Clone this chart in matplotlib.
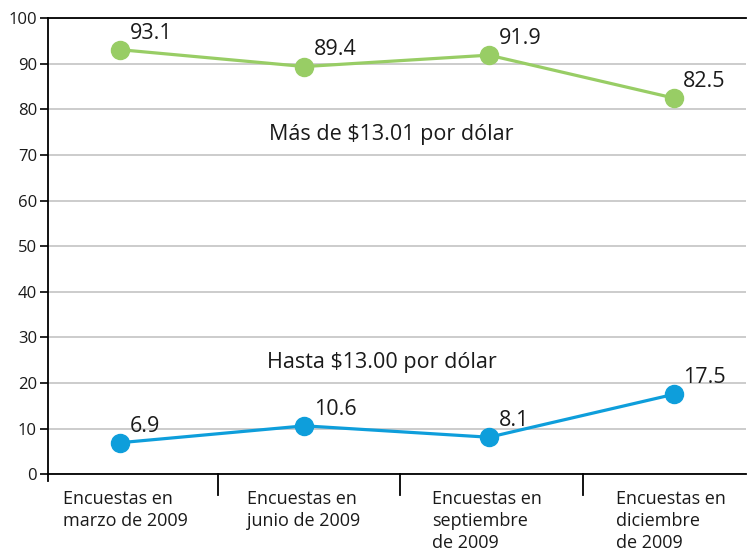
import matplotlib
import matplotlib.pyplot as plt

matplotlib.use("Agg")

categories = ["Encuestas en\nmarzo de 2009", "Encuestas en\njunio de 2009",
              "Encuestas en\nseptiembre\nde 2009", "Encuestas en\ndiciembre\nde 2009"]
mas_de = [93.1, 89.4, 91.9, 82.5]
hasta = [6.9, 10.6, 8.1, 17.5]
yticks = [0, 10, 20, 30, 40, 50, 60, 70, 80, 90, 100]

GREEN = "#98CD65"
BLUE = "#0E9EDB"
TXT = "#1A1A1A"


def main():
    plt.rcParams["font.family"] = ["Open Sans", "DejaVu Sans"]
    fig = plt.figure(figsize=(7.5, 5.52), dpi=100)
    ax = fig.add_axes([0.064, 0.141, 0.93, 0.826])
    x = list(range(len(categories)))

    for vals, color in [(mas_de, GREEN), (hasta, BLUE)]:
        ax.plot(x, vals, color=color, lw=2.3, marker="o", ms=13, zorder=3)
        for xi, v in zip(x, vals):
            ax.annotate(f"{v}", (xi, v), xytext=(7, 12), textcoords="offset points",
                        ha="left", va="center", fontsize=15.5, color=TXT)

    ax.text(1.47, 74.5, "Más de $13.01 por dólar", ha="center", va="center",
            fontsize=15.5, color=TXT)
    ax.text(1.42, 24.5, "Hasta $13.00 por dólar", ha="center", va="center",
            fontsize=15.5, color=TXT)

    ax.set_xlim(-0.39, 3.39)
    ax.set_ylim(0, 100)
    ax.set_yticks(yticks)
    ax.tick_params(axis="y", length=6, width=1.2, labelsize=12, pad=2,
                   labelcolor=TXT)
    ax.set_xticks([])
    ax.yaxis.grid(True, color="#C4C4C4", lw=1.2)
    ax.set_axisbelow(True)
    ax.spines["right"].set_visible(False)
    for s in ["left", "bottom", "top"]:
        ax.spines[s].set_linewidth(1.3)

    # category separators below the axis
    for sep in [0.53, 1.52, 2.51]:
        ax.plot([sep, sep], [0, -4.5], color="black", lw=1.3, clip_on=False)
    ax.plot([-0.39, -0.39], [0, -1.5], color="black", lw=1.3, clip_on=False)

    for xi, lab in zip(x, categories):
        ax.text(xi - 0.31, -3.4, lab, ha="left", va="top", fontsize=13,
                linespacing=1.3, color=TXT)

    fig.savefig("out.png", dpi=100)


if __name__ == "__main__":
    main()
